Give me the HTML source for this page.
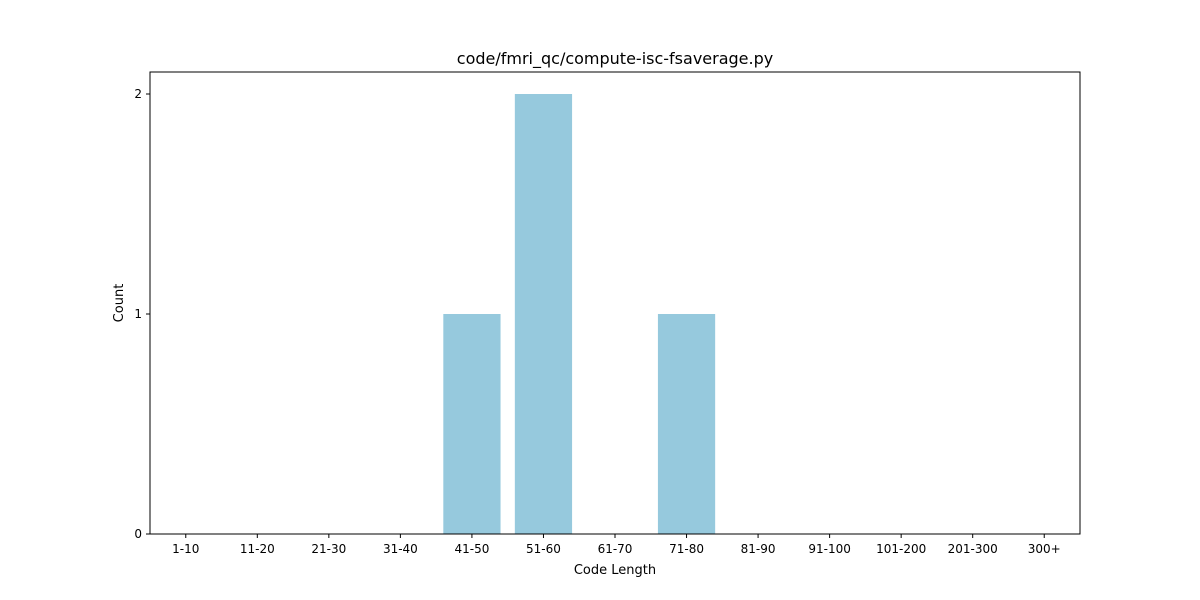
<!DOCTYPE html>
<html><head><meta charset="utf-8"><style>
body{margin:0;background:#fff;}
svg{display:block;font-family:"DejaVu Sans","Liberation Sans",sans-serif;}
</style></head><body>
<svg id="chart" width="1200" height="600">
<text x="615" y="64" font-size="16" text-anchor="middle">code/fmri_qc/compute-isc-fsaverage.py</text>
<g id="bars"></g>
<g id="xticks"></g>
<g id="yticks"></g>
<rect x="150" y="72" width="930" height="462" fill="none" stroke="#000" stroke-width="1"/>
<text x="615" y="574" font-size="13" text-anchor="middle">Code Length</text>
<text x="123" y="303" font-size="13" text-anchor="middle" transform="rotate(-90 123 303)">Count</text>
</svg>
<script>
const categories=["1-10","11-20","21-30","31-40","41-50","51-60","61-70","71-80","81-90","91-100","101-200","201-300","300+"];
const counts=[0,0,0,0,1,2,0,1,0,0,0,0,0];
const yTicks=[0,1,2];
const NS="http://www.w3.org/2000/svg";
const L=150,R=1080,T=72,B=534,yMax=2.1;
const step=(R-L)/categories.length;
const xc=i=>L+step*(i+0.5);
const y=v=>B-(v/yMax)*(B-T);
const bars=document.getElementById('bars'),xt=document.getElementById('xticks'),yt=document.getElementById('yticks');
function mk(t,a){const e=document.createElementNS(NS,t);for(const k in a)e.setAttribute(k,a[k]);return e;}
categories.forEach((c,i)=>{
  if(counts[i]>0){
    const r=mk('rect',{x:xc(i)-step*0.4,y:y(counts[i]),width:step*0.8,height:B-y(counts[i]),fill:'#96c9dd'});
    
    
    bars.appendChild(r);
  }
  const tk=mk('line',{x1:xc(i),x2:xc(i),y1:B,y2:B+4,stroke:'#000'});
  
  
  xt.appendChild(tk);
  const tx=mk('text',{x:xc(i),y:B+19,'font-size':12,'text-anchor':'middle'});
  tx.textContent=c;
  
  
  xt.appendChild(tx);
});
yTicks.forEach(v=>{
  const tk=mk('line',{x1:L-4,x2:L,y1:y(v),y2:y(v),stroke:'#000'});
  
  
  yt.appendChild(tk);
  const tx=mk('text',{x:L-8,y:y(v)+4,'font-size':12,'text-anchor':'end'});
  tx.textContent=v;
  
  
  yt.appendChild(tx);
});
</script>
</body></html>
